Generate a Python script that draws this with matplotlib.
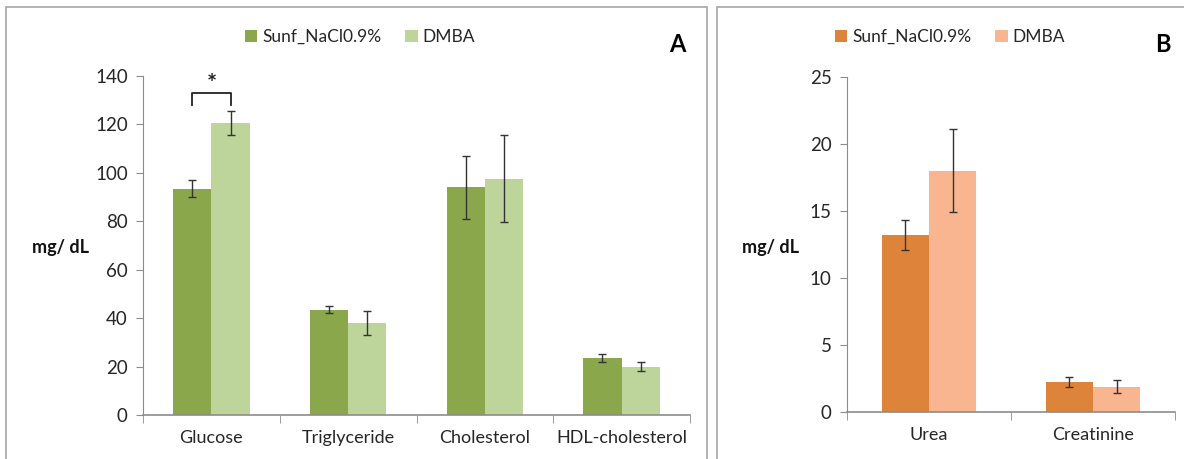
import matplotlib.pyplot as plt
from matplotlib.patches import Rectangle
import numpy as np

# data
cats_a = ['Glucose', 'Triglyceride', 'Cholesterol', 'HDL-cholesterol']
ctrl_a = [93.5, 43.5, 94, 23.5]
ctrl_a_err = [3.5, 1.5, 13, 1.5]
dmba_a = [120.5, 38, 97.5, 20]
dmba_a_err = [5, 5, 18, 2]

cats_b = ['Urea', 'Creatinine']
ctrl_b = [13.2, 2.25]
ctrl_b_err = [1.1, 0.35]
dmba_b = [18, 1.9]
dmba_b_err = [3.1, 0.5]

labels = ['Sunf_NaCl0.9%', 'DMBA']

plt.rcParams['font.family'] = ['Lato', 'DejaVu Sans']
axis_col = '#8c8c8c'
txt_col = '#262626'

fig = plt.figure(figsize=(11.84, 4.59), dpi=100)

# panel frames
fig.patches.append(Rectangle((6/1184, -0.05), 701/1184, 1.05 - 7/459, transform=fig.transFigure,
                             fill=False, edgecolor='#a6a6a6', lw=1.2))
fig.patches.append(Rectangle((717/1184, -0.05), 0.5, 1.05 - 7/459, transform=fig.transFigure,
                             fill=False, edgecolor='#a6a6a6', lw=1.2))


def draw(ax, cats, c1, e1, c2, e2, cols, w, ymax, ystep):
    x = np.arange(len(cats))
    ax.bar(x - w/2, c1, w, color=cols[0], label=labels[0], zorder=2)
    ax.bar(x + w/2, c2, w, color=cols[1], label=labels[1], zorder=2)
    ax.errorbar(x - w/2, c1, yerr=e1, fmt='none', ecolor='#333333', elinewidth=1, capsize=3, capthick=1, zorder=3)
    ax.errorbar(x + w/2, c2, yerr=e2, fmt='none', ecolor='#333333', elinewidth=1, capsize=3, capthick=1, zorder=3)
    ax.set_xlim(-0.5, len(cats) - 0.5)
    ax.set_ylim(0, ymax)
    ax.set_yticks(np.arange(0, ymax + 0.1, ystep))
    ax.set_xticks(x)
    ax.set_xticklabels(cats)
    ax.set_xticks(np.arange(-0.5, len(cats)), minor=True)
    ax.tick_params(axis='x', which='major', length=0, pad=11, labelsize=13, labelcolor=txt_col)
    ax.tick_params(axis='x', which='minor', length=6, color=axis_col, direction='out')
    ax.tick_params(axis='y', length=5, color=axis_col, labelsize=13.5, labelcolor=txt_col, pad=6)
    for s in ['top', 'right']:
        ax.spines[s].set_visible(False)
    ax.spines['left'].set_color(axis_col)
    ax.spines['bottom'].set_color(axis_col)
    ax.spines['bottom'].set_linewidth(1.2)


ax1 = fig.add_axes([143/1184, 1 - 415/459, 547/1184, 339/459])
draw(ax1, cats_a, ctrl_a, ctrl_a_err, dmba_a, dmba_a_err, ['#8aa74c', '#bdd49a'], 0.28, 140, 20)

ax2 = fig.add_axes([847/1184, 1 - 412/459, 328/1184, 335/459])
draw(ax2, cats_b, ctrl_b, ctrl_b_err, dmba_b, dmba_b_err, ['#de843a', '#f8b590'], 0.287, 25, 5)

# significance bracket
w = 0.28
ax1.plot([-w/2, -w/2, w/2, w/2], [128, 133, 133, 128], color='#222222', lw=1.3, clip_on=False)
ax1.text(0, 136.5, '*', ha='center', va='center', fontsize=17, fontweight='bold', color='#222222')

# y labels
fig.text(61/1184, 1 - 248/459, 'mg/ dL', ha='center', va='center', fontsize=13, fontweight='bold', color='#111111')
fig.text(770/1184, 1 - 247/459, 'mg/ dL', ha='center', va='center', fontsize=13, fontweight='bold', color='#111111')

# panel letters
fig.text(677/1184, 1 - 44/459, 'A', ha='center', va='center', fontsize=17, fontweight='bold')
fig.text(1163/1184, 1 - 44/459, 'B', ha='center', va='center', fontsize=17, fontweight='bold')

# legends
for ax, xc in [(ax1, 360), (ax2, 950)]:
    ax.legend(loc='center', bbox_to_anchor=(xc/1184, 1 - 37/459), bbox_transform=fig.transFigure,
              ncol=2, frameon=False, fontsize=12.5, handlelength=0.7, handleheight=0.7,
              handletextpad=0.3, columnspacing=1.4, labelcolor=txt_col)

fig.savefig('out.png', dpi=100)
